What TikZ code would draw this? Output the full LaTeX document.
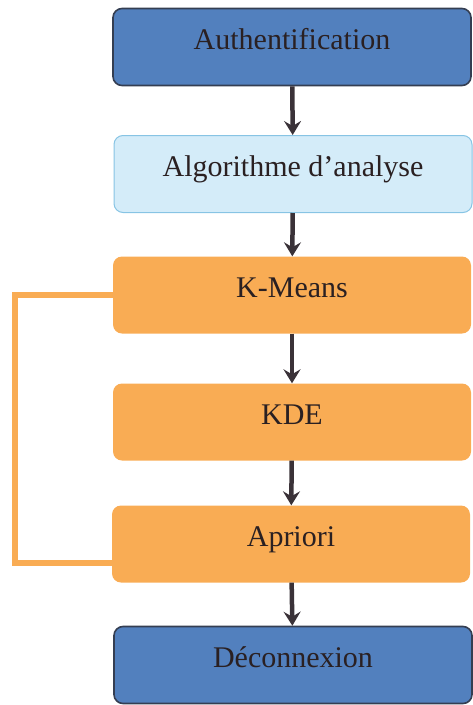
\documentclass[tikz,border=0pt]{standalone}
\usepackage{fontspec}
\setmainfont{Liberation Serif}
\usetikzlibrary{arrows.meta}
\definecolor{darkblue}{RGB}{82,128,190}
\definecolor{darkedge}{RGB}{52,62,82}
\definecolor{paleblue}{RGB}{212,236,249}
\definecolor{paleedge}{RGB}{135,196,228}
\definecolor{orangebox}{RGB}{249,172,84}
\definecolor{arrowgray}{RGB}{58,50,56}
\definecolor{textdark}{RGB}{42,32,34}
\tikzset{
  stepbox/.style={rounded corners=9pt,minimum width=358pt,minimum height=77pt,
    text height=15pt,text depth=11pt,
    text=textdark,font=\fontsize{30}{34}\selectfont},
  bluebox/.style={stepbox,fill=darkblue,draw=darkedge,line width=1.6pt},
  lightbox/.style={stepbox,fill=paleblue,draw=paleedge,line width=1pt},
  algobox/.style={stepbox,fill=orangebox},
  flow/.style={-{Stealth[length=14pt,width=17pt,inset=5pt]},line width=4.5pt,arrowgray},
  loopline/.style={orangebox,line width=6pt}
}
\begin{document}
\begin{tikzpicture}[x=1pt,y=-1pt]
\useasboundingbox (0,0) rectangle (473,705);
% etapes
\node[bluebox] (auth) at (292,47) {Authentification};
\node[lightbox] (algo) at (293,174) {Algorithme d’analyse};
\node[algobox] (kmeans) at (292,295) {K-Means};
\node[algobox] (kde) at (292,422) {KDE};
\node[algobox] (apriori) at (291,544) {Apriori};
\node[bluebox] (deco) at (293,665) {Déconnexion};
\coordinate (back) at ([yshift=-19pt]apriori.west);
% fleches
\draw[flow] (auth) -- (algo);
\draw[flow] (algo) -- (kmeans);
\draw[flow] (kmeans) -- (kde);
\draw[flow] (kde) -- (apriori);
\draw[flow] (apriori) -- (deco);
% boucle
\draw[loopline] (kmeans.west) -| (15,296) |- (back);
\end{tikzpicture}
\end{document}
